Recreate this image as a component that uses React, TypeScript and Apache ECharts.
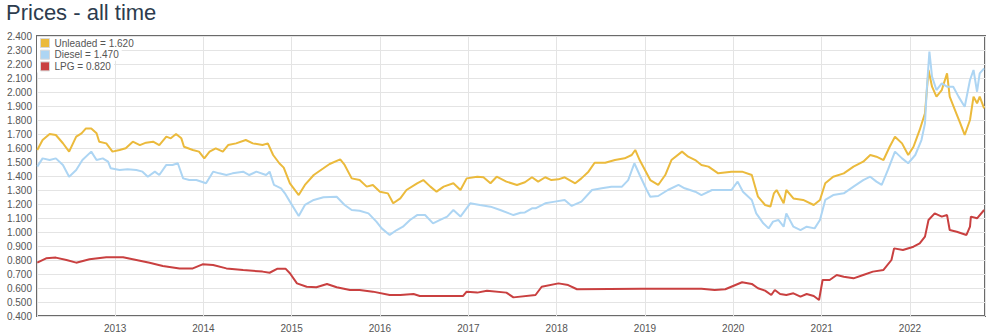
import React, { useEffect, useRef } from "react";
import * as echarts from "echarts";

const TITLE = "Prices - all time";
const LEGEND_NAMES = ["Unleaded = 1.620", "Diesel = 1.470", "LPG = 0.820"];
const COLORS = ["#EBBA3C", "#ADD5F3", "#C94040"];

// decimal years and prices
const unleadedYears = [
  2012.12, 2012.18, 2012.26, 2012.33, 2012.41, 2012.48, 2012.56, 2012.62, 2012.67, 2012.73,
  2012.79, 2012.82, 2012.9, 2012.97, 2013.05, 2013.12, 2013.2, 2013.28, 2013.35, 2013.43,
  2013.5, 2013.58, 2013.63, 2013.69, 2013.75, 2013.78, 2013.88, 2013.95, 2014.01, 2014.07,
  2014.14, 2014.22, 2014.28, 2014.37, 2014.48, 2014.56, 2014.67, 2014.73, 2014.79, 2014.86,
  2014.91, 2014.98, 2015.08, 2015.15, 2015.25, 2015.36, 2015.43, 2015.55, 2015.6, 2015.68,
  2015.77, 2015.85, 2015.92, 2016.0, 2016.09, 2016.15, 2016.23, 2016.3, 2016.42, 2016.49,
  2016.57, 2016.64, 2016.72, 2016.83, 2016.91, 2016.98, 2017.1, 2017.17, 2017.25, 2017.32,
  2017.43, 2017.55, 2017.64, 2017.72, 2017.79, 2017.87, 2017.94, 2018.02, 2018.09, 2018.21,
  2018.28, 2018.36, 2018.43, 2018.55, 2018.66, 2018.77, 2018.85, 2018.89, 2018.94, 2019.0,
  2019.06, 2019.15, 2019.23, 2019.3, 2019.42, 2019.49, 2019.57, 2019.64, 2019.72, 2019.83,
  2019.98, 2020.1, 2020.21, 2020.28, 2020.36, 2020.42, 2020.46, 2020.49, 2020.57, 2020.6,
  2020.68, 2020.79, 2020.91, 2020.98, 2021.04, 2021.13, 2021.25, 2021.36, 2021.47, 2021.55,
  2021.62, 2021.7, 2021.77, 2021.83, 2021.91, 2021.98, 2022.04, 2022.11, 2022.17, 2022.21,
  2022.25, 2022.3, 2022.36, 2022.42, 2022.45, 2022.51, 2022.57, 2022.62, 2022.68, 2022.72,
  2022.76, 2022.79, 2022.84,
];
const unleadedPrices = [
  1.586, 1.657, 1.7, 1.693, 1.634, 1.574, 1.681, 1.705, 1.74, 1.74,
  1.705, 1.645, 1.633, 1.574, 1.586, 1.598, 1.645, 1.621, 1.638, 1.645,
  1.621, 1.681, 1.669, 1.7, 1.669, 1.609, 1.586, 1.574, 1.526, 1.574,
  1.598, 1.574, 1.621, 1.633, 1.657, 1.633, 1.621, 1.633, 1.55, 1.491,
  1.46, 1.348, 1.264, 1.336, 1.407, 1.455, 1.486, 1.519, 1.479, 1.383,
  1.371, 1.324, 1.336, 1.288, 1.276, 1.205, 1.24, 1.3, 1.348, 1.371,
  1.324, 1.288, 1.324, 1.348, 1.3, 1.383, 1.395, 1.391, 1.348, 1.395,
  1.36, 1.336, 1.355, 1.391, 1.36, 1.391, 1.371, 1.376, 1.391, 1.348,
  1.383, 1.431, 1.495, 1.495, 1.514, 1.526, 1.55, 1.586, 1.514, 1.443,
  1.371, 1.336, 1.407, 1.514, 1.574, 1.538, 1.514, 1.479, 1.467, 1.419,
  1.431, 1.431, 1.407, 1.252, 1.193, 1.181, 1.276, 1.3, 1.205, 1.3,
  1.24, 1.229, 1.193, 1.229, 1.348, 1.395, 1.419, 1.467, 1.502, 1.55,
  1.538, 1.514, 1.609, 1.681, 1.633, 1.55, 1.609, 1.729, 1.848, 2.157,
  2.038, 1.967, 2.014, 2.133, 1.967, 1.871, 1.776, 1.693, 1.8, 1.967,
  1.919, 1.967, 1.883,
];

const dieselYears = [
  2012.12, 2012.18, 2012.26, 2012.33, 2012.41, 2012.48, 2012.56, 2012.63, 2012.73, 2012.79,
  2012.86, 2012.92, 2012.95, 2013.05, 2013.14, 2013.24, 2013.31, 2013.37, 2013.45, 2013.5,
  2013.58, 2013.65, 2013.71, 2013.77, 2013.84, 2013.92, 2014.03, 2014.11, 2014.18, 2014.26,
  2014.33, 2014.45, 2014.52, 2014.6, 2014.71, 2014.75, 2014.8, 2014.88, 2014.93, 2014.98,
  2015.08, 2015.15, 2015.25, 2015.36, 2015.51, 2015.6, 2015.68, 2015.77, 2015.87, 2015.96,
  2016.02, 2016.11, 2016.19, 2016.26, 2016.34, 2016.42, 2016.51, 2016.6, 2016.68, 2016.76,
  2016.83, 2016.91, 2017.02, 2017.13, 2017.25, 2017.36, 2017.51, 2017.59, 2017.64, 2017.72,
  2017.76, 2017.87, 2017.98, 2018.09, 2018.17, 2018.28, 2018.4, 2018.51, 2018.62, 2018.74,
  2018.81, 2018.88, 2018.94, 2019.02, 2019.06, 2019.15, 2019.26, 2019.38, 2019.45, 2019.57,
  2019.64, 2019.76, 2019.91, 2019.98, 2020.05, 2020.11, 2020.21, 2020.26, 2020.34, 2020.4,
  2020.45, 2020.51, 2020.57, 2020.6, 2020.68, 2020.76, 2020.83, 2020.92, 2020.98, 2021.04,
  2021.13, 2021.25, 2021.36, 2021.47, 2021.55, 2021.62, 2021.68, 2021.75, 2021.83, 2021.91,
  2021.98, 2022.06, 2022.13, 2022.17, 2022.19, 2022.22, 2022.25, 2022.3, 2022.36, 2022.42,
  2022.49, 2022.55, 2022.62, 2022.68, 2022.72, 2022.76, 2022.79, 2022.84,
];
const dieselPrices = [
  1.467, 1.526, 1.514, 1.526, 1.479, 1.395, 1.443, 1.514, 1.574, 1.514,
  1.526, 1.502, 1.455, 1.443, 1.448, 1.443, 1.431, 1.395, 1.431, 1.407,
  1.479, 1.479, 1.491, 1.383, 1.371, 1.371, 1.348, 1.431, 1.419, 1.407,
  1.419, 1.431, 1.407, 1.431, 1.407, 1.431, 1.336, 1.312, 1.27, 1.217,
  1.114, 1.193, 1.229, 1.248, 1.252, 1.193, 1.157, 1.152, 1.133, 1.074,
  1.026, 0.979, 1.014, 1.038, 1.086, 1.121, 1.121, 1.062, 1.086, 1.11,
  1.157, 1.11, 1.205, 1.193, 1.181, 1.157, 1.121, 1.138, 1.14, 1.169,
  1.169, 1.205, 1.217, 1.229, 1.186, 1.217, 1.3, 1.312, 1.324, 1.324,
  1.371, 1.491, 1.407, 1.3, 1.252, 1.257, 1.3, 1.336, 1.312, 1.288,
  1.264, 1.3, 1.3, 1.3, 1.36, 1.288, 1.229, 1.133, 1.062, 1.026,
  1.074, 1.086, 1.038, 1.133, 1.038, 1.014, 1.038, 1.026, 1.086, 1.229,
  1.264, 1.276, 1.324, 1.371, 1.395, 1.36, 1.336, 1.443, 1.574, 1.526,
  1.491, 1.55, 1.657, 1.776, 2.014, 2.288, 2.11, 2.014, 2.062, 2.038,
  2.038, 1.967, 1.895, 2.086, 2.157, 2.002, 2.133, 2.169,
];

const lpgYears = [
  2012.12, 2012.22, 2012.33, 2012.45, 2012.56, 2012.71, 2012.9, 2013.09, 2013.24, 2013.39,
  2013.54, 2013.73, 2013.88, 2013.99, 2014.11, 2014.26, 2014.45, 2014.67, 2014.75, 2014.84,
  2014.93, 2014.98, 2015.06, 2015.17, 2015.28, 2015.4, 2015.51, 2015.66, 2015.77, 2015.92,
  2016.11, 2016.23, 2016.38, 2016.45, 2016.94, 2016.98, 2017.1, 2017.21, 2017.43, 2017.51,
  2017.76, 2017.83, 2018.02, 2018.13, 2018.23, 2018.96, 2019.64, 2019.79, 2019.91, 2020.1,
  2020.21, 2020.28, 2020.36, 2020.43, 2020.47, 2020.53, 2020.6, 2020.68, 2020.76, 2020.83,
  2020.91, 2020.97, 2021.01, 2021.09, 2021.17, 2021.25, 2021.36, 2021.47, 2021.58, 2021.7,
  2021.79, 2021.82, 2021.92, 2022.04, 2022.11, 2022.17, 2022.21, 2022.28, 2022.36, 2022.42,
  2022.45, 2022.53, 2022.64, 2022.68, 2022.69, 2022.76, 2022.84,
];
const lpgPrices = [
  0.781, 0.812, 0.817, 0.8, 0.781, 0.805, 0.819, 0.819, 0.8, 0.781,
  0.757, 0.74, 0.74, 0.769, 0.764, 0.74, 0.729, 0.717, 0.709, 0.738,
  0.738, 0.705, 0.633, 0.609, 0.605, 0.629, 0.605, 0.586, 0.586, 0.574,
  0.55, 0.55, 0.557, 0.543, 0.543, 0.574, 0.567, 0.581, 0.567, 0.533,
  0.55, 0.609, 0.633, 0.621, 0.591, 0.595, 0.595, 0.586, 0.591, 0.641,
  0.629, 0.598, 0.581, 0.55, 0.586, 0.557, 0.55, 0.562, 0.538, 0.557,
  0.543, 0.514, 0.657, 0.657, 0.693, 0.681, 0.669, 0.693, 0.717, 0.729,
  0.8, 0.883, 0.871, 0.895, 0.919, 0.967, 1.086, 1.133, 1.11, 1.121,
  1.014, 1.002, 0.979, 1.038, 1.11, 1.098, 1.157,
];

const X_START = 2012.117;
const X_END = 2022.85;
const Y_MIN = 0.4;
const Y_MAX = 2.4;
const Y_STEP = 0.1;

function yearToTs(t: number): number {
  const y = Math.floor(t);
  const a = Date.UTC(y, 0, 1);
  const b = Date.UTC(y + 1, 0, 1);
  return a + (t - y) * (b - a);
}

function pairs(xs: number[], ys: number[]) {
  return xs.map((x, i) => [yearToTs(x), ys[i]]);
}

const FONT = "'Liberation Sans', Arial, sans-serif";
const YEAR_MS = 365 * 24 * 3600 * 1000;

export default function App() {
  const ref = useRef<HTMLDivElement>(null);
  useEffect(() => {
    if (!ref.current) return;
    const chart = echarts.init(ref.current, null, { renderer: "svg" });
    const seriesData = [
      pairs(unleadedYears, unleadedPrices),
      pairs(dieselYears, dieselPrices),
      pairs(lpgYears, lpgPrices),
    ];
    const legendBase = {
      orient: "horizontal" as const,
      left: 37,
      itemWidth: 9,
      itemHeight: 9,
      itemGap: 0,
      itemTextGap: 5,
      icon: "rect",
      backgroundColor: "#ffffff",
      padding: [1, 3, 1, 3],
      textStyle: { fontSize: 10, color: "#555", fontFamily: FONT },
      selectedMode: false,
    };
    chart.setOption({
      animation: false,
      useUTC: true,
      textStyle: { fontFamily: FONT },
      title: {
        text: TITLE,
        left: 6,
        top: 1,
        padding: 0,
        textStyle: { fontSize: 22, fontWeight: "normal", color: "#2d3c4e", fontFamily: FONT },
      },
      legend: LEGEND_NAMES.map((n, i) => ({
        ...legendBase,
        top: 37 + i * 11.7,
        data: [{ name: n, itemStyle: { color: COLORS[i], borderColor: "#d8d8d8", borderWidth: 1 } }],
      })),
      grid: {
        left: 37,
        right: 15,
        top: 36,
        bottom: 19,
        show: true,
        borderColor: "#6a6a6a",
        borderWidth: 2,
        backgroundColor: "transparent",
      },
      xAxis: {
        type: "time",
        min: yearToTs(X_START),
        max: yearToTs(X_END),
        minInterval: YEAR_MS,
        maxInterval: YEAR_MS * 1.01,
        axisLine: { show: false },
        axisTick: { show: false },
        splitLine: { show: true, lineStyle: { color: "#e4e4e4", width: 1 } },
        axisLabel: {
          formatter: (v: number) => String(new Date(v).getUTCFullYear()),
          showMinLabel: false,
          showMaxLabel: false,
          color: "#555",
          fontSize: 10,
          fontFamily: FONT,
          margin: 7,
        },
      },
      yAxis: {
        type: "value",
        min: Y_MIN,
        max: Y_MAX,
        interval: Y_STEP,
        axisLine: { show: false },
        axisTick: { show: false },
        splitLine: { show: true, lineStyle: { color: "#e4e4e4", width: 1 } },
        axisLabel: {
          formatter: (v: number) => v.toFixed(3),
          color: "#555",
          fontSize: 10,
          fontFamily: FONT,
          margin: 5,
        },
      },
      series: LEGEND_NAMES.map((n, i) => ({
        name: n,
        type: "line",
        data: seriesData[i],
        showSymbol: false,
        symbol: "none",
        color: COLORS[i],
        lineStyle: { width: 2, color: COLORS[i] },
        z: 2 + i,
      })),
    });
    return () => chart.dispose();
  }, []);
  return (
    <div
      ref={ref}
      style={{ position: "fixed", left: 0, top: 0, width: 1000, height: 335, background: "#fff" }}
    />
  );
}
